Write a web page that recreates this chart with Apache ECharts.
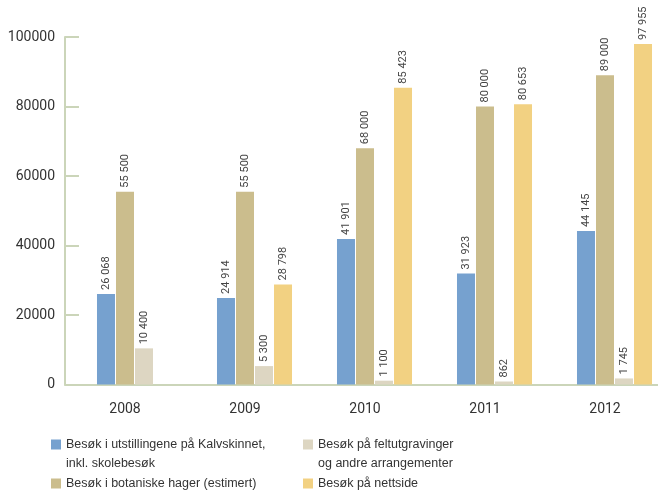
<!DOCTYPE html>
<html>
<head>
<meta charset="utf-8">
<script src="https://cdn.jsdelivr.net/npm/echarts@6/dist/echarts.min.js"></script>
<style>
    html,body{margin:0;padding:0;background:#fff;}
    #main{width:658px;height:492px;}
</style>
</head>
<body>
<div id="main"></div>
<script>
    var years = ['2008', '2009', '2010', '2011', '2012'];
    var utstilling = [26068, 24914, 41901, 31923, 44145];
    var botanisk = [55500, 55500, 68000, 80000, 89000];
    var feltutgraving = [10400, 5300, 1100, 862, 1745];
    var nettside = [null, 28798, 85423, 80653, 97955];
    var yTicks = [0, 20000, 40000, 60000, 80000, 100000];

    var names = [
        'Besøk i utstillingene på Kalvskinnet,\ninkl. skolebesøk',
        'Besøk i botaniske hager (estimert)',
        'Besøk på feltutgravinger\nog andre arrangementer',
        'Besøk på nettside'
    ];
    var colors = ['#76a1cf', '#cbbd8d', '#ddd6c2', '#f2d182'];
    var axisColor = '#cbd5b9';
    var txtFont = "'Liberation Sans', sans-serif";
    var numFont = "Roboto, 'Liberation Sans', sans-serif";

    function fmt(v) {
        return String(v).replace(/\B(?=(\d{3})+(?!\d))/g, ' ');
    }

    function barSeries(idx, data) {
        return {
            name: names[idx],
            type: 'bar',
            data: data,
            barWidth: 18,
            barGap: '5.6%',
            itemStyle: {color: colors[idx]},
            label: {
                show: true,
                position: 'top',
                rotate: 90,
                align: 'left',
                verticalAlign: 'middle',
                distance: 4,
                color: '#444',
                fontFamily: numFont,
                fontSize: 11,
                formatter: function (p) { return fmt(p.value); }
            }
        };
    }

    function legendAt(idx, left, top) {
        var multi = names[idx].indexOf('\n') > -1;
        return {
            data: [names[idx]],
            left: left,
            top: top,
            padding: 0,
            orient: 'vertical',
            icon: 'rect',
            itemWidth: 10,
            itemHeight: 10,
            selectedMode: false,
            // tom første linje, så ikonet står ved første tekstlinje
            formatter: function (name) { return multi ? '\n' + name : name; },
            textStyle: {
                color: '#333',
                fontFamily: txtFont,
                fontSize: 12.5,
                lineHeight: 19
            }
        };
    }

    var myChart = echarts.init(document.getElementById('main'));
    var option = {
        animation: false,
        grid: {left: 65, width: 600, top: 37, bottom: 107.5, outerBoundsMode: 'none'},
        legend: [
            legendAt(0, 51, 416),
            legendAt(1, 51, 474),
            legendAt(2, 303, 416),
            legendAt(3, 303, 474)
        ],
        xAxis: {
            type: 'category',
            data: years,
            axisLine: {lineStyle: {color: axisColor, width: 2}},
            axisTick: {inside: true, length: 8, lineStyle: {color: axisColor, width: 2}},
            axisLabel: {color: '#333', fontFamily: numFont, fontSize: 14, margin: 18}
        },
        yAxis: {
            type: 'value',
            min: yTicks[0],
            max: yTicks[yTicks.length - 1],
            interval: yTicks[1] - yTicks[0],
            splitLine: {show: false},
            axisLine: {show: true, lineStyle: {color: axisColor, width: 2}},
            axisTick: {show: true, inside: true, length: 14, lineStyle: {color: axisColor, width: 2}},
            axisLabel: {
                color: '#333', fontFamily: numFont, fontSize: 14, margin: 10,
                formatter: function (v) { return String(v); }
            }
        },
        series: [
            // tom serie, skyver gruppen til høyre som i originalen
            {type: 'bar', data: years.map(function () { return null; }), barWidth: 18, barGap: '5.6%', silent: true},
            barSeries(0, utstilling),
            barSeries(1, botanisk),
            barSeries(2, feltutgraving),
            barSeries(3, nettside)
        ]
    };
    myChart.setOption(option);
</script>
</body>
</html>
